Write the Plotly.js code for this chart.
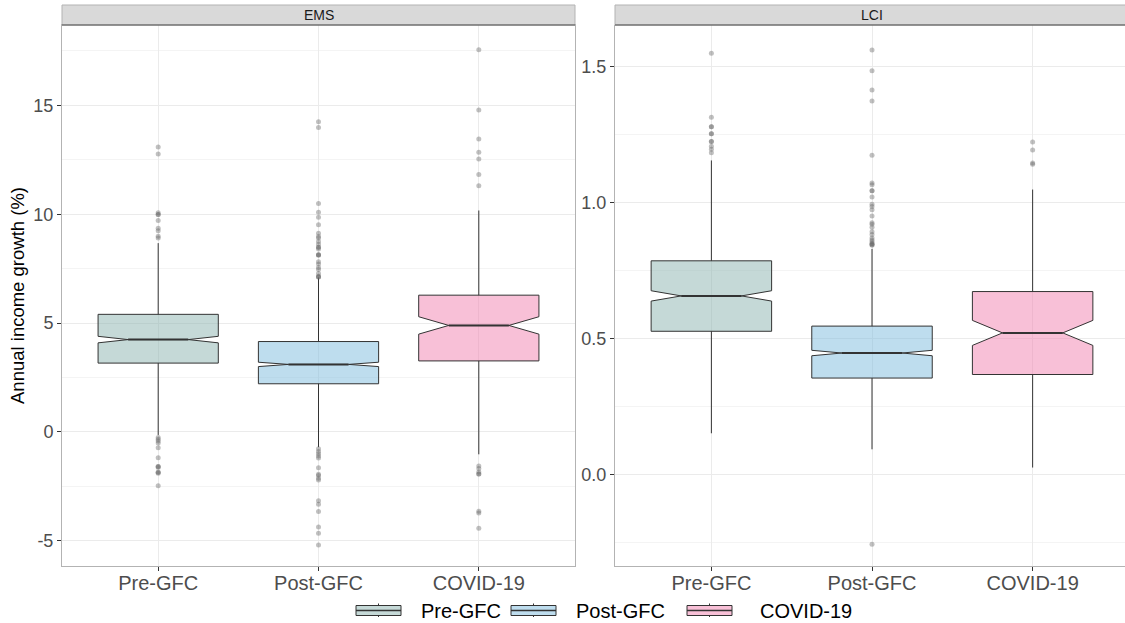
<!DOCTYPE html>
<html>
<head>
<meta charset="utf-8">
<script src="https://cdn.plot.ly/plotly-3.0.1.min.js"></script>
<style>html,body{margin:0;padding:0;background:#fff;}#chart{width:1125px;height:623px;}</style>
</head>
<body>
<div id="chart"></div>
<script>
// ---- data ----
const periods = ['Pre-GFC', 'Post-GFC', 'COVID-19'];
const panels = ['EMS', 'LCI'];

// EMS summary statistics (per period)
const emsQ1 = [3.16, 2.21, 3.26];
const emsMedian = [4.24, 3.10, 4.89];
const emsQ3 = [5.40, 4.15, 6.28];
const emsLower = [-0.14, -0.70, -1.03];
const emsUpper = [8.67, 7.09, 10.17];
const emsNotch = [0.15, 0.10, 0.40];

// LCI summary statistics (per period)
const lciQ1 = [0.526, 0.354, 0.367];
const lciMedian = [0.656, 0.446, 0.520];
const lciQ3 = [0.785, 0.545, 0.672];
const lciLower = [0.151, 0.092, 0.025];
const lciUpper = [1.154, 0.829, 1.047];
const lciNotch = [0.019, 0.010, 0.046];

// outliers
const emsOutPre = [13.09, 12.77, 10.07, 9.99, 9.99, 9.71, 9.35, 9.24, 8.99, 8.91, -0.26, -0.34, -0.42, -0.51, -0.73, -1.19, -1.59, -1.59, -1.64, -1.85, -1.85, -1.90, -2.47];
const emsOutPost = [14.25, 13.98, 10.49, 10.09, 9.86, 9.52, 9.12, 8.97, 8.91, 8.75, 8.62, 8.48, 8.48, 8.40, 8.14, 8.14, 8.11, 7.82, 7.71, 7.55, 7.46, 7.28, 7.15, 7.11, 7.11, -0.77, -0.90, -1.00, -1.11, -1.20, -1.65, -1.94, -2.00, -2.13, -2.21, -3.16, -3.32, -3.66, -4.37, -4.66, -5.19];
const emsOutCovid = [17.55, 14.78, 13.45, 12.85, 12.54, 11.82, 11.31, -1.57, -1.68, -1.84, -1.93, -1.93, -3.64, -3.73, -4.43];
const lciOutPre = [1.548, 1.313, 1.278, 1.278, 1.252, 1.252, 1.224, 1.224, 1.206, 1.195, 1.182];
const lciOutPost = [1.560, 1.484, 1.413, 1.373, 1.173, 1.071, 1.065, 1.043, 1.043, 1.020, 0.993, 0.985, 0.973, 0.950, 0.925, 0.919, 0.908, 0.892, 0.882, 0.869, 0.862, 0.855, 0.848, 0.848, 0.843, 0.843, -0.257];
const lciOutCovid = [1.222, 1.192, 1.145, 1.140];

// tick labels
const emsTickVals = [-5, 0, 5, 10, 15];
const emsTickText = ['-5', '0', '5', '10', '15'];
const lciTickVals = [0, 0.5, 1, 1.5];
const lciTickText = ['0.0', '0.5', '1.0', '1.5'];

// ---- styles ----
const fills = ['rgba(140,180,175,0.5)', 'rgba(125,188,222,0.5)', 'rgba(242,130,176,0.5)'];
const FONT = 'Liberation Sans, Arial, Helvetica, sans-serif';
const BOXW = 0.75;        // box width in category units
const NOTCHW = 0.25;      // plotly notchwidth (inner median = 50% of box)

const traces = [];
const stats = {
  EMS: {q1: emsQ1, med: emsMedian, q3: emsQ3, lo: emsLower, hi: emsUpper, ns: emsNotch, out: [emsOutPre, emsOutPost, emsOutCovid], xa: 'x', ya: 'y'},
  LCI: {q1: lciQ1, med: lciMedian, q3: lciQ3, lo: lciLower, hi: lciUpper, ns: lciNotch, out: [lciOutPre, lciOutPost, lciOutCovid], xa: 'x2', ya: 'y2'}
};

panels.forEach((p, pi) => {
  const s = stats[p];
  periods.forEach((per, i) => {
    traces.push({
      type: 'box',
      name: per,
      showlegend: false,
      x: [per],
      q1: [s.q1[i]], median: [s.med[i]], q3: [s.q3[i]],
      lowerfence: [s.lo[i]], upperfence: [s.hi[i]],
      notchspan: [s.ns[i]],
      notched: true,
      notchwidth: NOTCHW,
      boxpoints: false,
      whiskerwidth: 0,
      width: BOXW,
      fillcolor: fills[i],
      line: {color: '#333333', width: 1},
      xaxis: s.xa, yaxis: s.ya,
      hoverinfo: 'skip'
    });
    // thicker median segment (ggplot fatten), spanning the notch waist
    traces.push({
      type: 'box',
      name: per + ' median',
      showlegend: false,
      x: [per],
      q1: [s.med[i]], median: [s.med[i]], q3: [s.med[i]],
      lowerfence: [s.med[i]], upperfence: [s.med[i]],
      boxpoints: false,
      whiskerwidth: 0,
      width: BOXW * (1 - 2 * NOTCHW),
      fillcolor: 'rgba(0,0,0,0)',
      line: {color: '#333333', width: 2},
      xaxis: s.xa, yaxis: s.ya,
      hoverinfo: 'skip'
    });
  });
  periods.forEach((per, i) => {
    traces.push({
      type: 'scatter', mode: 'markers',
      x: s.out[i].map(() => per), y: s.out[i],
      marker: {color: 'rgba(105,105,105,0.42)', size: 5},
      showlegend: false, hoverinfo: 'skip',
      xaxis: s.xa, yaxis: s.ya
    });
  });
});

const W = 1125, H = 623;
const px = v => v / W, py = v => 1 - v / H;

const axBase = {
  type: 'category', categoryorder: 'array', categoryarray: periods,
  showgrid: true, gridcolor: '#ebebeb', gridwidth: 1,
  ticks: 'outside', ticklen: 4, tickcolor: '#333333', tickwidth: 1,
  tickfont: {family: FONT, size: 20, color: '#4d4d4d'},
  ticklabelstandoff: -5,
  showline: true, linecolor: '#b3b3b3', linewidth: 1,
  zeroline: false, fixedrange: true, automargin: false
};
const yBase = {
  showgrid: true, gridcolor: '#ebebeb', gridwidth: 1,
  ticks: 'outside', ticklen: 4, tickcolor: '#333333', tickwidth: 1,
  tickfont: {family: FONT, size: 18, color: '#4d4d4d'},
  showline: true, linecolor: '#b3b3b3', linewidth: 1,
  zeroline: false, fixedrange: true, automargin: false
};

// ---- legend drawn as box glyphs (ggplot style) ----
const legGlyphX = [356, 511, 687];
const legTextX = [419, 574, 758];
const legShapes = [];
const legAnn = [];
periods.forEach((per, i) => {
  const x0 = legGlyphX[i], x1 = x0 + 45, xc = (x0 + x1) / 2;
  legShapes.push({type: 'line', xref: 'paper', yref: 'paper', x0: px(xc), x1: px(xc), y0: py(603.5), y1: py(617), line: {color: '#333333', width: 1}});
  legShapes.push({type: 'rect', xref: 'paper', yref: 'paper', x0: px(x0), x1: px(x1), y0: py(615.5), y1: py(605.5), fillcolor: '#ffffff', line: {width: 0}});
  legShapes.push({type: 'rect', xref: 'paper', yref: 'paper', x0: px(x0), x1: px(x1), y0: py(615.5), y1: py(605.5), fillcolor: fills[i], line: {color: '#333333', width: 1}});
  legShapes.push({type: 'line', xref: 'paper', yref: 'paper', x0: px(x0), x1: px(x1), y0: py(610.5), y1: py(610.5), line: {color: '#333333', width: 1.5}});
  legAnn.push({text: per, xref: 'paper', yref: 'paper', x: px(legTextX[i]), y: py(611), xanchor: 'left', yanchor: 'middle', showarrow: false, font: {family: FONT, size: 20, color: '#000000'}});
});

const layout = {
  width: W, height: H,
  margin: {l: 0, r: 0, t: 0, b: 0},
  paper_bgcolor: '#ffffff', plot_bgcolor: '#ffffff',
  font: {family: FONT},
  showlegend: false,
  boxmode: 'overlay', boxgap: 0.25,
  xaxis: Object.assign({}, axBase, {domain: [px(62), px(575)], range: [-0.6, 2.6], anchor: 'y', mirror: true}),
  xaxis2: Object.assign({}, axBase, {domain: [px(615), 1], range: [-0.6, 2.575], anchor: 'y2'}),
  yaxis: Object.assign({}, yBase, {
    domain: [py(566), py(25)], range: [-6.16, 18.69], anchor: 'x', mirror: true,
    tickmode: 'array', tickvals: emsTickVals, ticktext: emsTickText,
    minor: {dtick: 2.5, tick0: 0, showgrid: true, gridcolor: '#f4f4f4', ticks: ''},
    title: {text: 'Annual income growth (%)', font: {family: FONT, size: 18.5, color: '#000000'}, standoff: 3}
  }),
  yaxis2: Object.assign({}, yBase, {
    domain: [py(566), py(25)], range: [-0.337, 1.652], anchor: 'x2',
    tickmode: 'array', tickvals: lciTickVals, ticktext: lciTickText,
    minor: {dtick: 0.25, tick0: 0, showgrid: true, gridcolor: '#f4f4f4', ticks: ''}
  }),
  shapes: [
    {type: 'rect', xref: 'paper', yref: 'paper', x0: px(62), x1: px(575), y0: py(25), y1: py(5), fillcolor: '#d9d9d9', line: {color: '#b3b3b3', width: 1}, layer: 'above'},
    {type: 'line', xref: 'paper', yref: 'paper', x0: px(62), x1: px(575), y0: py(25), y1: py(25), line: {color: '#4d4d4d', width: 1}, layer: 'above'},
    {type: 'rect', xref: 'paper', yref: 'paper', x0: px(615), x1: px(1135), y0: py(25), y1: py(5), fillcolor: '#d9d9d9', line: {color: '#b3b3b3', width: 1}, layer: 'above'},
    {type: 'line', xref: 'paper', yref: 'paper', x0: px(615), x1: px(1135), y0: py(25), y1: py(25), line: {color: '#4d4d4d', width: 1}, layer: 'above'}
  ].concat(legShapes),
  annotations: [
    {text: panels[0], xref: 'paper', yref: 'paper', x: px((62 + 575) / 2), y: py(15), showarrow: false, xanchor: 'center', yanchor: 'middle', font: {family: FONT, size: 14, color: '#1a1a1a'}},
    {text: panels[1], xref: 'paper', yref: 'paper', x: px((615 + 1129) / 2), y: py(15), showarrow: false, xanchor: 'center', yanchor: 'middle', font: {family: FONT, size: 14, color: '#1a1a1a'}}
  ].concat(legAnn),
  hovermode: false
};

Plotly.newPlot('chart', traces, layout, {displayModeBar: false, staticPlot: true});
</script>
</body>
</html>
